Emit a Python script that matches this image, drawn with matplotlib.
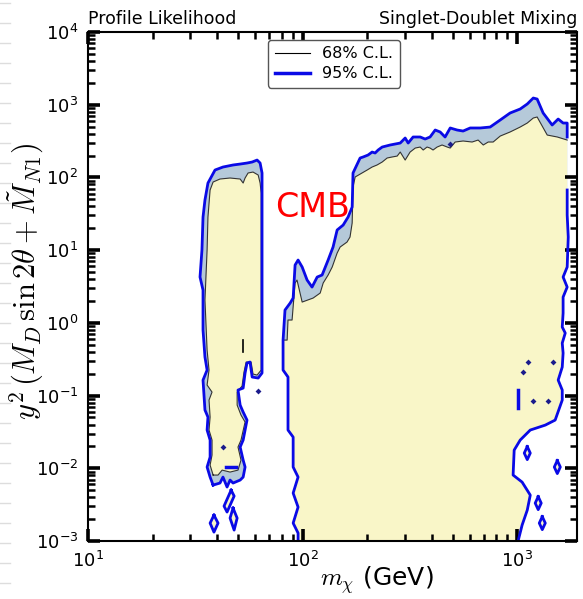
import numpy as np
import matplotlib
matplotlib.use("Agg")
from matplotlib import pyplot as plt
from matplotlib.lines import Line2D
from matplotlib.ticker import FixedLocator, NullFormatter

# contour outlines, stored as log10(m_chi / GeV) and log10(y^2 ...)
# main region: shared lower-left edge (bottom -> up)
main_left_logm = [1.979, 1.979, 1.956, 1.979, 1.956, 1.979, 1.956, 1.956,
                  1.932, 1.932, 1.909, 1.909]
main_left_logy = [-3.05, -2.891, -2.754, -2.534, -2.341, -2.121, -1.983, -1.571,
                  -1.474, -0.745, -0.649, -0.237]

# main region 95% upper edge (left -> right)
main95_logm = [1.918, 1.942, 1.956, 1.965, 1.979, 1.998, 2.021, 2.044, 2.068,
               2.091, 2.119, 2.142, 2.161, 2.189, 2.212, 2.231, 2.235, 2.268,
               2.282, 2.305, 2.324, 2.338, 2.352, 2.371, 2.408, 2.455, 2.478,
               2.492, 2.515, 2.548, 2.571, 2.594, 2.618, 2.641, 2.664, 2.688,
               2.720, 2.748, 2.781, 2.828, 2.874, 2.921, 2.967, 3.014, 3.047,
               3.075, 3.093, 3.121, 3.163, 3.191, 3.214, 3.233, 3.233]
main95_logy = [0.176, 0.272, 0.341, 0.795, 0.864, 0.768, 0.589, 0.492, 0.630,
               0.658, 0.864, 1.043, 1.277, 1.345, 1.455, 1.593, 2.061, 2.267,
               2.281, 2.308, 2.349, 2.336, 2.377, 2.418, 2.446, 2.473, 2.542,
               2.473, 2.556, 2.556, 2.528, 2.556, 2.652, 2.625, 2.556, 2.680,
               2.652, 2.638, 2.680, 2.680, 2.693, 2.790, 2.886, 2.941, 3.010,
               3.092, 3.078, 2.886, 2.721, 2.803, 2.748, 2.748, 2.556]

# main region 68% upper edge (left -> right)
main68_logm = [1.928, 1.932, 1.951, 1.965, 1.974, 1.998, 2.049, 2.082, 2.096,
               2.119, 2.138, 2.161, 2.175, 2.207, 2.221, 2.231, 2.235, 2.245,
               2.277, 2.301, 2.324, 2.347, 2.371, 2.394, 2.417, 2.441, 2.455,
               2.478, 2.501, 2.525, 2.548, 2.562, 2.580, 2.594, 2.608, 2.627,
               2.650, 2.674, 2.688, 2.711, 2.748, 2.790, 2.818, 2.842, 2.865,
               2.888, 2.921, 2.967, 3.014, 3.047, 3.075, 3.093, 3.140, 3.187,
               3.233]
main68_logy = [-0.237, 0.039, 0.039, 0.548, 0.589, 0.286, 0.341, 0.410, 0.548,
               0.658, 0.768, 0.960, 1.043, 1.111, 1.180, 1.373, 1.868, 2.006,
               2.061, 2.102, 2.143, 2.171, 2.212, 2.267, 2.281, 2.294, 2.349,
               2.239, 2.349, 2.404, 2.418, 2.377, 2.418, 2.404, 2.377, 2.418,
               2.446, 2.418, 2.404, 2.487, 2.501, 2.487, 2.514, 2.446, 2.487,
               2.487, 2.569, 2.625, 2.693, 2.748, 2.817, 2.831, 2.583, 2.556,
               2.514]

# main region right edge and high-mass notch (top -> bottom)
main_right_logm = [3.233, 3.233, 3.238, 3.233, 3.214, 3.233, 3.214, 3.214,
                   3.210, 3.224, 3.210, 3.214, 3.210, 3.191, 3.210, 3.210,
                   3.177, 3.131, 3.061, 3.014, 2.986, 2.981, 3.023, 3.061,
                   3.047, 3.023, 3.000]
main_right_logy = [1.827, 1.483, 1.180, 0.768, 0.630, 0.492, 0.355, 0.135,
                   -0.058, -0.140, -0.278, -0.415, -0.608, -0.787, -0.924,
                   -1.062, -1.337, -1.406, -1.474, -1.612, -1.750, -2.093,
                   -2.190, -2.369, -2.575, -2.781, -3.05]

# low-mass island (Z / Higgs funnel)
isl95_logm = [1.583, 1.569, 1.555, 1.569, 1.569, 1.555, 1.559, 1.545, 1.536,
              1.555, 1.545, 1.536, 1.536, 1.522, 1.531, 1.536, 1.545, 1.559,
              1.592, 1.629, 1.676, 1.709, 1.741, 1.765, 1.788, 1.802, 1.811,
              1.811, 1.793, 1.765, 1.755, 1.741, 1.732, 1.723, 1.699, 1.709,
              1.723, 1.741, 1.723, 1.709, 1.723, 1.732, 1.723, 1.709, 1.676,
              1.662, 1.648, 1.629, 1.615]
isl95_logy = [-2.231, -2.121, -1.983, -1.846, -1.612, -1.474, -1.296, -1.199,
              -0.787, -0.649, -0.470, -0.099, 0.451, 0.630, 1.001, 1.455,
              1.689, 1.923, 2.102, 2.143, 2.171, 2.184, 2.198, 2.212, 2.239,
              2.198, 2.061, -0.690, -0.759, -0.745, -0.539, -0.553, -0.690,
              -0.897, -0.924, -1.131, -1.227, -1.337, -1.612, -1.708, -1.887,
              -1.983, -2.121, -2.162, -2.203, -2.162, -2.258, -2.121, -2.203]

isl68_logm = [1.583, 1.569, 1.578, 1.578, 1.564, 1.569, 1.564, 1.578, 1.555,
              1.564, 1.555, 1.545, 1.555, 1.559, 1.569, 1.583, 1.615, 1.662,
              1.709, 1.723, 1.732, 1.746, 1.769, 1.793, 1.802, 1.807, 1.807,
              1.788, 1.769, 1.760, 1.737, 1.727, 1.718, 1.695, 1.695, 1.713,
              1.732, 1.713, 1.699, 1.713, 1.699, 1.662, 1.625, 1.606]
isl68_logy = [-2.093, -1.956, -1.818, -1.612, -1.474, -1.296, -1.062, -0.952,
              -0.855, -0.649, -0.374, 0.314, 1.001, 1.455, 1.827, 1.937, 1.978,
              1.992, 1.978, 1.923, 1.992, 2.061, 2.074, 2.033, 1.923, 1.785,
              -0.649, -0.718, -0.704, -0.539, -0.539, -0.677, -0.869, -0.952,
              -1.131, -1.268, -1.364, -1.612, -1.708, -1.887, -2.025, -2.052,
              -2.025, -2.093]

# small detached 95% patches (below the island and inside the high-mass notch)
patch_logm = [[1.587, 1.606, 1.587, 1.569],
              [1.676, 1.695, 1.681, 1.662],
              [1.667, 1.681, 1.648, 1.634],
              [3.047, 3.061, 3.047, 3.033],
              [3.187, 3.201, 3.187, 3.173],
              [3.098, 3.112, 3.098, 3.084],
              [3.117, 3.131, 3.117, 3.103]]
patch_logy = [[-2.644, -2.754, -2.878, -2.754],
              [-2.547, -2.685, -2.850, -2.685],
              [-2.300, -2.382, -2.602, -2.520],
              [-1.701, -1.791, -1.881, -1.791],
              [-1.893, -1.983, -2.073, -1.983],
              [-2.389, -2.479, -2.569, -2.479],
              [-2.664, -2.754, -2.844, -2.754]]

# isolated excluded grid points inside the allowed regions
spot_logm = [1.793, 1.629, 2.688, 3.051, 3.168, 3.028, 3.075, 3.145]
spot_logy = [-0.938, -1.708, 2.460, -0.539, -0.539, -0.677, -1.076, -1.076]

# axis decades
x_decades = [1, 2, 3]
y_decades = [-3, -2, -1, 0, 1, 2, 3, 4]

yellow = '#f9f6c8'
band = '#b5c9d9'
blue = '#0a0ae6'


def pts(logm, logy, close=False):
    m = np.power(10.0, np.asarray(logm))
    y = np.power(10.0, np.asarray(logy))
    if close:
        m, y = np.append(m, m[0]), np.append(y, y[0])
    return m, y


fig = plt.figure(figsize=(5.83, 5.99), dpi=100)
ax = fig.add_axes([88 / 583, 58 / 599, 489 / 583, 509 / 599])

main95 = pts(main_left_logm + main95_logm + main_right_logm,
             main_left_logy + main95_logy + main_right_logy)
main68 = pts(main_left_logm + main68_logm + main_right_logm,
             main_left_logy + main68_logy + main_right_logy)
# outlines leave the open stretch on the right mass edge undrawn
edge95 = pts(main_right_logm + main_left_logm + main95_logm,
             main_right_logy + main_left_logy + main95_logy)
edge68 = pts(main_right_logm + main_left_logm + main68_logm,
             main_right_logy + main_left_logy + main68_logy)
isl95 = pts(isl95_logm, isl95_logy, close=True)
isl68 = pts(isl68_logm, isl68_logy, close=True)
patches = [pts(pm, py, close=True) for pm, py in zip(patch_logm, patch_logy)]

for m, y in [main95, isl95]:
    ax.fill(m, y, color=band, lw=0)
for m, y in [main68, isl68] + patches:
    ax.fill(m, y, color=yellow, lw=0)
for m, y in [edge68, isl68]:
    ax.plot(m, y, color='#333333', lw=0.8)
for m, y in [edge95, isl95] + patches:
    ax.plot(m, y, color=blue, lw=2.0, solid_joinstyle='round')

# short excluded slivers
ax.plot(*pts([1.643, 1.690], [-1.983, -1.983]), color=blue, lw=2.5)
ax.plot(*pts([3.005, 3.005], [-0.924, -1.172]), color=blue, lw=2.5)
ax.plot(*pts([1.723, 1.723], [-0.237, -0.402]), color='black', lw=1.2)
ax.plot(*pts(spot_logm, spot_logy), 'D', color='#1b1b8c', ms=3, mew=0)

ax.set_xscale('log')
ax.set_yscale('log')
ax.set_xlim(10, 1900)
ax.set_ylim(1e-3, 1e4)
subs = np.arange(2, 10)
ax.xaxis.set_major_locator(FixedLocator(10.0 ** np.array(x_decades)))
ax.yaxis.set_major_locator(FixedLocator(10.0 ** np.array(y_decades)))
ax.xaxis.set_minor_locator(FixedLocator(np.outer(10.0 ** np.array(x_decades), subs).ravel()))
ax.yaxis.set_minor_locator(FixedLocator(np.outer(10.0 ** np.array(y_decades[:-1]), subs).ravel()))
ax.xaxis.set_minor_formatter(NullFormatter())
ax.yaxis.set_minor_formatter(NullFormatter())

ax.tick_params(which='major', direction='in', length=8.5, width=2.6,
               color='black', top=True, right=True, labelsize=13, pad=7)
ax.tick_params(which='minor', direction='in', length=5, width=1.8,
               color='black', top=True, right=True)
for s in ax.spines.values():
    s.set_linewidth(1.5)

ax.set_xlabel(r'$m_\chi$ (GeV)', fontsize=18, math_fontfamily='cm')
ax.xaxis.set_label_coords(0.59, -0.045)
ax.set_ylabel(r'$y^2\,(M_D\,\sin2\theta + \tilde{M}_{N1})$', fontsize=22,
              math_fontfamily='cm')
ax.yaxis.set_label_coords(-0.085, 0.51)

ax.text(0.0, 1.008, 'Profile Likelihood', transform=ax.transAxes,
        fontsize=12.5, ha='left', va='bottom')
ax.text(1.0, 1.008, 'Singlet-Doublet Mixing', transform=ax.transAxes,
        fontsize=12.5, ha='right', va='bottom')
ax.text(0.46, 0.656, 'CMB', transform=ax.transAxes, color='red',
        fontsize=24, ha='center', va='center')

handles = [Line2D([], [], color='black', lw=0.8),
           Line2D([], [], color=blue, lw=2.5)]
ax.legend(handles, ['68% C.L.', '95% C.L.'], loc='upper left',
          bbox_to_anchor=(0.352, 1.0), fontsize=11.5, handlelength=2.2,
          fancybox=True, framealpha=1, edgecolor='#555555',
          borderpad=0.4, labelspacing=0.3)

# faint margin dashes at the left page edge
for yy in np.arange(0.995, 0.0, -20 / 599):
    fig.add_artist(Line2D([0, 10 / 583], [yy, yy], color='#dddddd', lw=1))

fig.savefig('out.png', dpi=100)
